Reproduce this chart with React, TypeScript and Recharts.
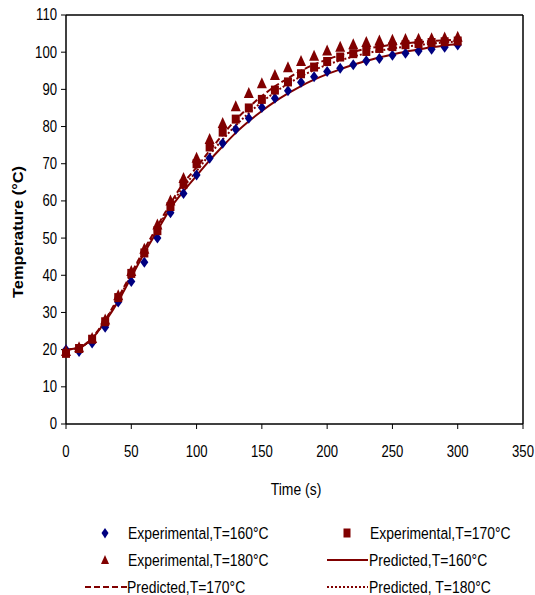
import React from 'react';
import { ComposedChart, Line, Scatter, XAxis, YAxis, ReferenceLine } from 'recharts';

// sampling times (s)
const times = [0, 10, 20, 30, 40, 50, 60, 70, 80, 90, 100, 110, 120, 130, 140, 150, 160, 170, 180, 190, 200, 210, 220, 230, 240, 250, 260, 270, 280, 290, 300];

// measured temperatures (°C)
const exp160 = [20, 19.5, 21.8, 26, 32.8, 38.3, 43.5, 50, 56.8, 62, 67, 71.5, 75.5, 79.3, 82.2, 85.1, 87.6, 89.6, 91.9, 93.4, 94.8, 95.7, 96.6, 97.7, 98.3, 99.2, 99.7, 100.3, 100.8, 101.3, 101.9];
const exp170 = [19, 20.3, 22.8, 27.5, 34, 40.5, 46, 52, 58.5, 64.5, 70, 74.5, 78.5, 82, 85, 87.3, 89.8, 92, 94.2, 96, 97.5, 98.7, 99.6, 100.2, 101, 101.5, 102, 102.3, 102.6, 102.8, 103];
const exp180 = [19.5, 20.5, 23, 28, 34.5, 41, 47, 53.5, 60, 66, 71.5, 76.5, 80.8, 85.3, 88.9, 91.5, 93.7, 95.8, 97.5, 98.9, 100.3, 101.3, 102, 102.6, 103, 103.2, 103.4, 103.5, 103.6, 103.8, 104];

// model predictions (°C)
const pred160 = [20, 20.5, 23, 27.5, 33, 39.5, 46, 52, 58, 62.6, 66.8, 70.9, 74.7, 78.3, 81.4, 84.2, 86.7, 88.9, 90.9, 92.6, 94.1, 95.4, 96.6, 97.7, 98.6, 99.4, 100.1, 100.7, 101.3, 101.8, 102.2];
const pred170 = [20, 20.5, 23.2, 28, 34, 40.5, 47, 53.2, 59.3, 64.8, 69, 73.5, 77.8, 81.8, 85.2, 88.2, 90.8, 93, 95, 96.7, 98, 99.2, 100.1, 100.9, 101.5, 102, 102.4, 102.7, 103, 103.2, 103.4];
const pred180 = [20, 20.5, 23, 27.8, 33.6, 40, 46.5, 52.6, 58.6, 63.8, 68, 72.5, 76.5, 80.3, 83.6, 86.6, 89.2, 91.5, 93.5, 95.2, 96.6, 97.8, 98.8, 99.7, 100.4, 101, 101.5, 101.9, 102.3, 102.6, 102.9];

const xTicks = [0, 50, 100, 150, 200, 250, 300, 350];
const yTicks = [0, 10, 20, 30, 40, 50, 60, 70, 80, 90, 100, 110];

const rows = times.map((t, i) => ({
  t,
  exp160: exp160[i],
  exp170: exp170[i],
  exp180: exp180[i],
  pred160: pred160[i],
  pred170: pred170[i],
  pred180: pred180[i],
}));

const NAVY = '#000080';
const MAROON = '#800000';
const SANS = "'Liberation Sans', Arial, sans-serif";

// condensed text: Liberation Sans squeezed horizontally
function Narrow({ x, y, size, anchor = 'start', baseline, dy, children }: any) {
  return (
    <g transform={`translate(${x},${y}) scale(0.82,1)`}>
      <text x={0} y={0} dy={dy} textAnchor={anchor} dominantBaseline={baseline} fontSize={size} fontFamily={SANS} fill="#000">
        {children}
      </text>
    </g>
  );
}

const XTick = (p: any) => (
  <Narrow x={p.x} y={p.y} size={16} anchor="middle" dy="0.71em">
    {p.payload.value}
  </Narrow>
);
const YTick = (p: any) => (
  <Narrow x={p.x} y={p.y} size={16} anchor="end" baseline="central">
    {p.payload.value}
  </Narrow>
);

const Diamond = (p: any) => (
  <path d={`M${p.cx},${p.cy - 5.5} L${p.cx + 4},${p.cy} L${p.cx},${p.cy + 5.5} L${p.cx - 4},${p.cy} Z`} fill={NAVY} />
);
const Square = (p: any) => <rect x={p.cx - 4} y={p.cy - 4.5} width={8} height={9} fill={MAROON} />;
const Triangle = (p: any) => (
  <path d={`M${p.cx},${p.cy - 6.5} L${p.cx + 5},${p.cy + 4.5} L${p.cx - 5},${p.cy + 4.5} Z`} fill={MAROON} />
);

function LegendBox() {
  return (
    <svg width={535} height={595} style={{ position: 'absolute', left: 0, top: 0, pointerEvents: 'none' }}>
      <path d="M105,528 L108.5,533 L105,538.5 L101.5,533 Z" fill={NAVY} />
      <Narrow x={128} y={533} size={17} baseline="central">Experimental,T=160°C</Narrow>
      <rect x={343.5} y={528.5} width={7} height={9} fill={MAROON} />
      <Narrow x={370} y={533} size={17} baseline="central">Experimental,T=170°C</Narrow>

      <path d="M105,555 L109,564 L101,564 Z" fill={MAROON} />
      <Narrow x={128} y={560} size={17} baseline="central">Experimental,T=180°C</Narrow>
      <line x1={327} y1={560} x2={368} y2={560} stroke={MAROON} strokeWidth={2} />
      <Narrow x={369} y={560} size={17} baseline="central">Predicted,T=160°C</Narrow>

      <line x1={85} y1={587} x2={127} y2={587} stroke={MAROON} strokeWidth={2} strokeDasharray="6 3" />
      <Narrow x={127} y={587} size={17} baseline="central">Predicted,T=170°C</Narrow>
      <line x1={327} y1={587} x2={368} y2={587} stroke={MAROON} strokeWidth={2} strokeDasharray="2 2" />
      <Narrow x={369} y={587} size={17} baseline="central">Predicted, T=180°C</Narrow>
    </svg>
  );
}

export default function App() {
  return (
    <div style={{ position: 'absolute', left: 0, top: 0, width: 535, height: 595, background: '#fff' }}>
      <ComposedChart width={535} height={595} data={rows} margin={{ top: 15, right: 12, bottom: 141, left: 0 }}>
        <XAxis
          dataKey="t"
          type="number"
          domain={[0, 350]}
          ticks={xTicks}
          height={30}
          tickSize={5}
          tickMargin={17}
          tick={XTick}
          axisLine={{ stroke: '#000', strokeWidth: 1.5 }}
          tickLine={{ stroke: '#000' }}
          label={{
            content: () => (
              <Narrow x={296} y={489} size={17} anchor="middle" baseline="central">
                Time (s)
              </Narrow>
            ),
          }}
        />
        <YAxis
          type="number"
          domain={[0, 110]}
          ticks={yTicks}
          width={66}
          tickSize={5}
          tickMargin={4}
          tick={YTick}
          axisLine={{ stroke: '#000', strokeWidth: 1.5 }}
          tickLine={{ stroke: '#000' }}
          label={{
            content: () => (
              <text
                x={18}
                y={232}
                transform="rotate(-90 18 232)"
                textAnchor="middle"
                dominantBaseline="central"
                textLength={132}
                lengthAdjust="spacingAndGlyphs"
                style={{ fontSize: 14, fontWeight: 'bold', fill: '#000', fontFamily: SANS }}
              >
                Temperature (°C)
              </text>
            ),
          }}
        />
        <ReferenceLine y={110} stroke="#000" strokeWidth={1.5} />
        <ReferenceLine x={350} stroke="#000" strokeWidth={1.5} />

        <Line dataKey="pred160" type="monotone" stroke={MAROON} strokeWidth={2} dot={false} isAnimationActive={false} />
        <Line dataKey="pred170" type="monotone" stroke={MAROON} strokeWidth={2} strokeDasharray="6 3" dot={false} isAnimationActive={false} />
        <Line dataKey="pred180" type="monotone" stroke={MAROON} strokeWidth={2} strokeDasharray="2 2" dot={false} isAnimationActive={false} />

        <Scatter dataKey="exp160" shape={Diamond} isAnimationActive={false} />
        <Scatter dataKey="exp170" shape={Square} isAnimationActive={false} />
        <Scatter dataKey="exp180" shape={Triangle} isAnimationActive={false} />
      </ComposedChart>
      <LegendBox />
    </div>
  );
}
